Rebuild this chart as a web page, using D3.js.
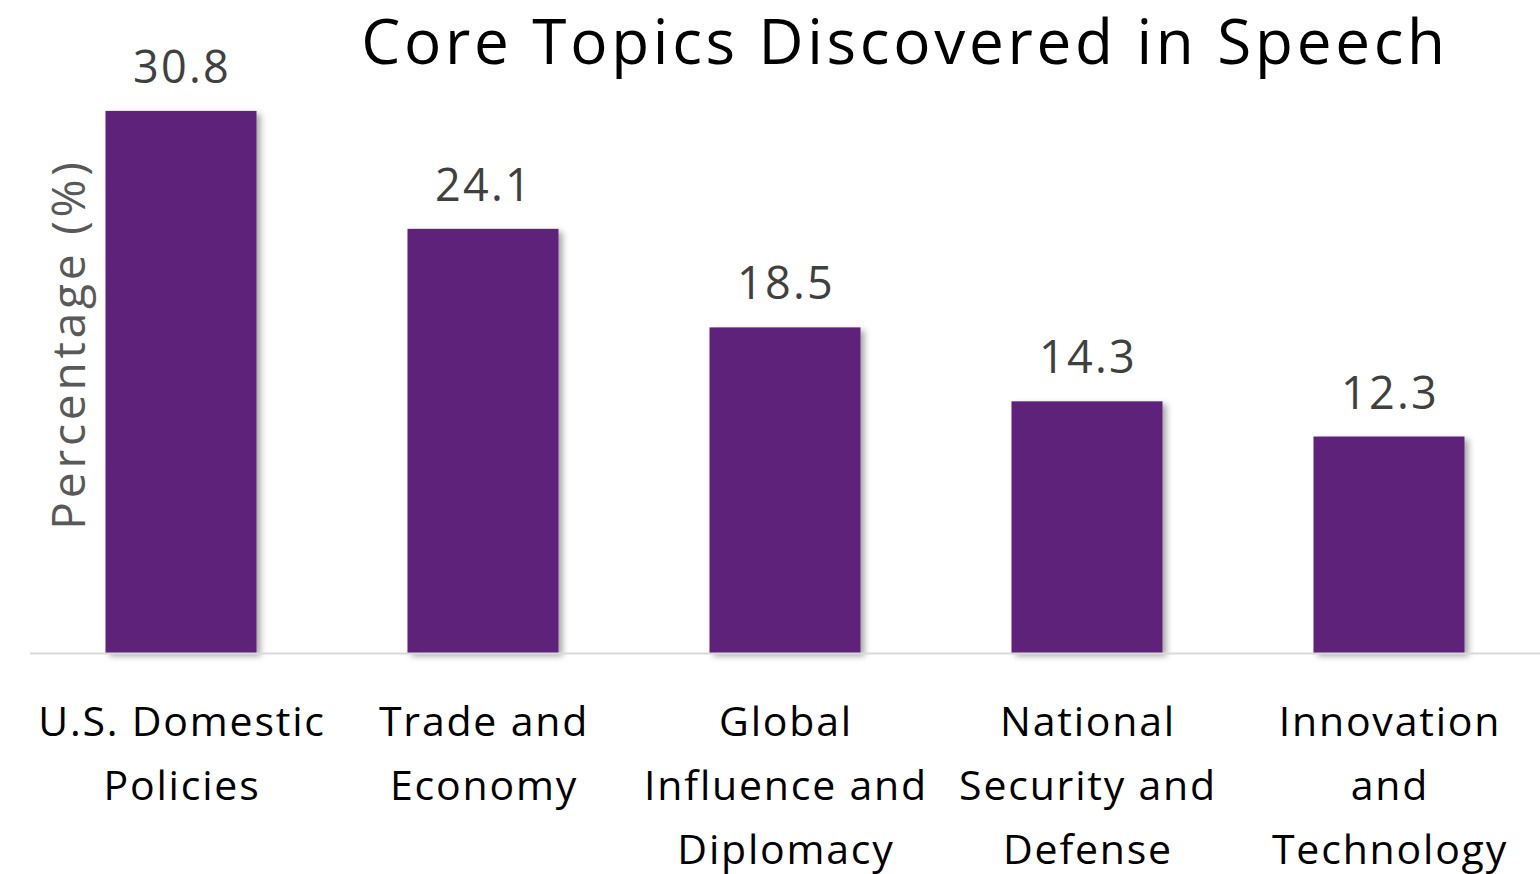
<!DOCTYPE html>
<html>
<head>
<meta charset="utf-8">
<script src="https://cdn.jsdelivr.net/npm/d3@7"></script>
<style>
  body { margin: 0; background: #fff; }
  text { font-family: "Open Sans", "Noto Sans", sans-serif; }
</style>
</head>
<body>
<div id="chart"></div>
<script>
// Data
const categories = ['U.S. Domestic Policies', 'Trade and Economy', 'Global Influence and Diplomacy', 'National Security and Defense', 'Innovation and Technology'];
const categoryLines = [
    ['U.S. Domestic', 'Policies'],
    ['Trade and', 'Economy'],
    ['Global', 'Influence and', 'Diplomacy'],
    ['National', 'Security and', 'Defense'],
    ['Innovation', 'and', 'Technology'],
];
const values = [30.8, 24.1, 18.5, 14.3, 12.3];

const width = 1540;
const height = 874;
const baseY = 653;

const svg = d3.select('#chart')
    .append('svg')
    .attr('width', width)
    .attr('height', height);

// shadow behind bars
const defs = svg.append('defs');
defs.append('filter')
    .attr('id', 'shadow')
    .attr('x', '-10%').attr('y', '-10%')
    .attr('width', '130%').attr('height', '130%')
    .append('feDropShadow')
    .attr('dx', 4).attr('dy', 3)
    .attr('stdDeviation', 3)
    .attr('flood-color', '#000')
    .attr('flood-opacity', 0.35);

const x = d3.scaleBand()
    .domain(categories)
    .range([30, 1540])
    .paddingInner(0.5)
    .paddingOuter(0.25);

const y = d3.scaleLinear()
    .domain([0, 35])
    .range([baseY, baseY - 35 * 17.6]);

// title
svg.append('text')
    .attr('x', 903)
    .attr('y', 64)
    .attr('dx', 2)
    .attr('text-anchor', 'middle')
    .style('font-size', '62px')
    .style('letter-spacing', '3.7px')
    .style('fill', '#000')
    .text('Core Topics Discovered in Speech');

// y axis title
svg.append('text')
    .attr('transform', `translate(85,346) rotate(-90)`)
    .attr('dx', 2)
    .attr('text-anchor', 'middle')
    .style('font-size', '46px')
    .style('letter-spacing', '3.8px')
    .style('fill', '#595959')
    .text('Percentage (%)');

// bars
svg.selectAll('rect.bar')
    .data(values)
    .enter()
    .append('rect')
    .attr('class', 'bar')
    .attr('x', (d, i) => x(categories[i]))
    .attr('y', d => y(d))
    .attr('width', x.bandwidth())
    .attr('height', d => y(0) - y(d))
    .attr('fill', '#5E227A')
    .attr('filter', 'url(#shadow)');

// baseline
svg.append('line')
    .attr('x1', 30).attr('x2', 1540)
    .attr('y1', baseY + 0.5).attr('y2', baseY + 0.5)
    .attr('stroke', '#d9d9d9')
    .attr('stroke-width', 2);

// value labels
svg.selectAll('text.value')
    .data(values)
    .enter()
    .append('text')
    .attr('class', 'value')
    .attr('x', (d, i) => x(categories[i]) + x.bandwidth() / 2)
    .attr('y', d => y(d) - 28)
    .attr('dx', 1)
    .attr('text-anchor', 'middle')
    .style('font-size', '45px')
    .style('letter-spacing', '2.3px')
    .style('fill', '#404040')
    .text(d => d.toFixed(1));

// category labels
const catG = svg.selectAll('text.cat')
    .data(categoryLines)
    .enter()
    .append('text')
    .attr('class', 'cat')
    .attr('text-anchor', 'middle')
    .style('font-size', '41px')
    .style('letter-spacing', '1.8px')
    .style('fill', '#000');

catG.selectAll('tspan')
    .data((d, i) => d.map(t => ({ t, i })))
    .enter()
    .append('tspan')
    .attr('x', d => x(categories[d.i]) + x.bandwidth() / 2 + 1)
    .attr('y', (d, j) => 736 + j * 64)
    .text(d => d.t);
</script>
</body>
</html>
